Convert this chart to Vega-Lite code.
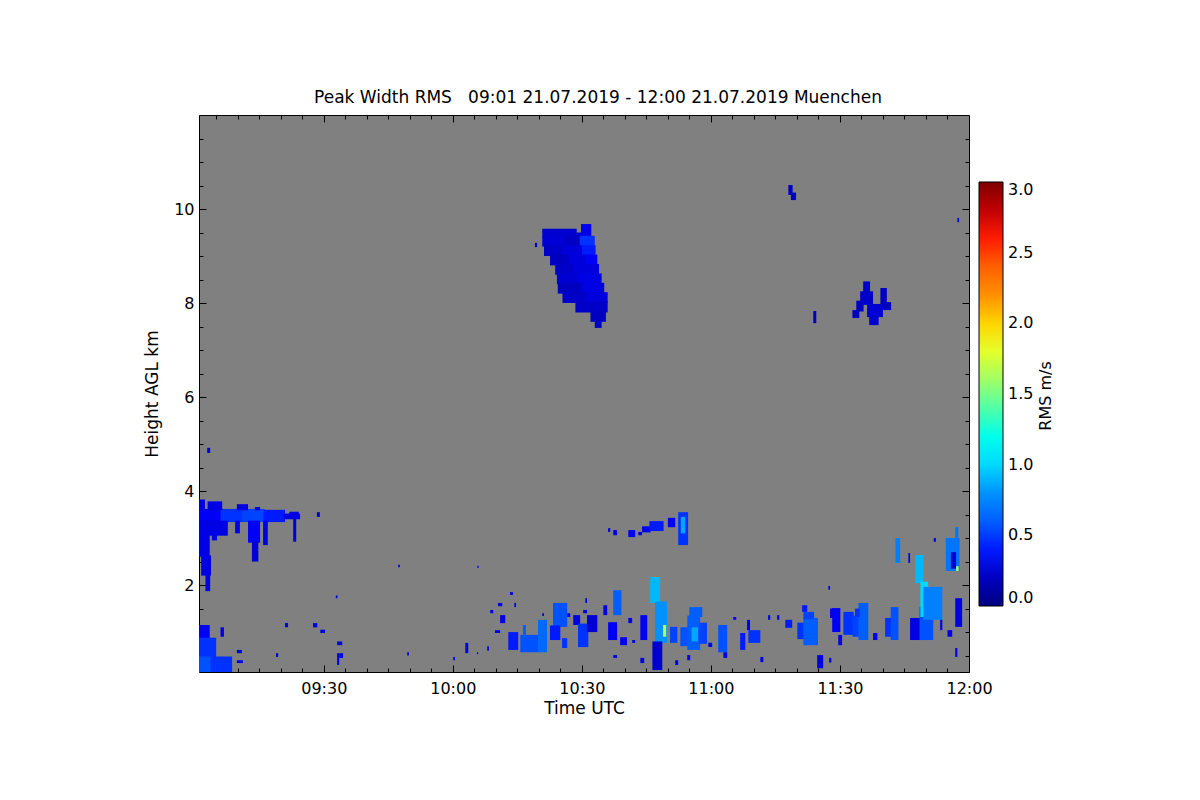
{
  "$schema": "https://vega.github.io/schema/vega-lite/v6.json",
  "autosize": "none",
  "width": 770,
  "height": 557,
  "padding": {"left": 199, "top": 115, "right": 231, "bottom": 128},
  "background": "white",
  "config": {
    "font": "DejaVu Sans",
    "view": {"fill": "#808080", "stroke": "black", "strokeWidth": 1},
    "axis": {"domain": false, "grid": false, "tickColor": "black", "labelColor": "black", "titleColor": "black", "zindex": 1, "tickWidth": 1}
  },
  "title": {"text": "Peak Width RMS \u00a0\u00a009:01 21.07.2019 - 12:00 21.07.2019 Muenchen", "fontSize": 17, "fontWeight": "normal", "offset": 8, "dx": 14, "color": "black", "anchor": "middle"},
  "data": {"values": [
    {"t0":80.8,"t1":88.8,"z0":9.40,"z1":9.58,"rms":0.24},
    {"t0":88.5,"t1":90.1,"z0":9.40,"z1":9.50,"rms":0.24},
    {"t0":89.8,"t1":92.2,"z0":9.40,"z1":9.68,"rms":0.32},
    {"t0":80.8,"t1":86.3,"z0":9.20,"z1":9.43,"rms":0.26},
    {"t0":86.0,"t1":89.8,"z0":9.20,"z1":9.43,"rms":0.21},
    {"t0":89.5,"t1":93.0,"z0":9.20,"z1":9.43,"rms":0.45},
    {"t0":81.2,"t1":85.8,"z0":9.00,"z1":9.23,"rms":0.22},
    {"t0":85.5,"t1":90.3,"z0":9.00,"z1":9.23,"rms":0.27},
    {"t0":90.0,"t1":93.2,"z0":9.00,"z1":9.23,"rms":0.40},
    {"t0":82.6,"t1":87.3,"z0":8.80,"z1":9.03,"rms":0.20},
    {"t0":87.0,"t1":91.3,"z0":8.80,"z1":9.03,"rms":0.28},
    {"t0":91.0,"t1":93.6,"z0":8.80,"z1":9.03,"rms":0.35},
    {"t0":83.8,"t1":88.3,"z0":8.60,"z1":8.83,"rms":0.22},
    {"t0":88.0,"t1":94.0,"z0":8.60,"z1":8.83,"rms":0.28},
    {"t0":84.2,"t1":89.3,"z0":8.40,"z1":8.63,"rms":0.25},
    {"t0":89.0,"t1":94.6,"z0":8.40,"z1":8.63,"rms":0.30},
    {"t0":84.4,"t1":90.3,"z0":8.20,"z1":8.43,"rms":0.20},
    {"t0":90.0,"t1":95.2,"z0":8.20,"z1":8.43,"rms":0.30},
    {"t0":85.5,"t1":91.3,"z0":8.00,"z1":8.23,"rms":0.22},
    {"t0":91.0,"t1":96.0,"z0":8.00,"z1":8.23,"rms":0.28},
    {"t0":88.5,"t1":96.0,"z0":7.80,"z1":8.03,"rms":0.22},
    {"t0":92.0,"t1":95.6,"z0":7.60,"z1":7.83,"rms":0.20},
    {"t0":93.0,"t1":94.6,"z0":7.47,"z1":7.63,"rms":0.20},
    {"t0":79.1,"t1":79.6,"z0":9.19,"z1":9.28,"rms":0.20},

    {"t0":138.0,"t1":139.0,"z0":10.30,"z1":10.51,"rms":0.2},
    {"t0":138.6,"t1":139.8,"z0":10.19,"z1":10.35,"rms":0.2},
    {"t0":177.3,"t1":177.7,"z0":9.72,"z1":9.81,"rms":0.25},
    {"t0":143.8,"t1":144.5,"z0":7.57,"z1":7.83,"rms":0.2},
    {"t0":152.9,"t1":154.5,"z0":7.68,"z1":7.85,"rms":0.2},
    {"t0":153.8,"t1":155.5,"z0":7.82,"z1":8.05,"rms":0.2},
    {"t0":155.4,"t1":157.0,"z0":8.22,"z1":8.46,"rms":0.22},
    {"t0":154.7,"t1":157.7,"z0":7.96,"z1":8.25,"rms":0.22},
    {"t0":156.8,"t1":159.0,"z0":7.53,"z1":7.73,"rms":0.25},
    {"t0":156.3,"t1":160.0,"z0":7.70,"z1":7.98,"rms":0.25},
    {"t0":159.4,"t1":160.9,"z0":7.95,"z1":8.32,"rms":0.2},
    {"t0":160.0,"t1":161.9,"z0":7.85,"z1":8.02,"rms":0.2},

    {"t0":1.0,"t1":6.3,"z0":3.34,"z1":3.62,"rms":0.35},
    {"t0":6.0,"t1":11.3,"z0":3.34,"z1":3.62,"rms":0.45},
    {"t0":11.0,"t1":16.3,"z0":3.34,"z1":3.62,"rms":0.5},
    {"t0":16.0,"t1":21.0,"z0":3.34,"z1":3.60,"rms":0.4},
    {"t0":20.7,"t1":24.5,"z0":3.40,"z1":3.52,"rms":0.3},
    {"t0":1.0,"t1":2.4,"z0":3.59,"z1":3.82,"rms":0.3},
    {"t0":3.0,"t1":6.4,"z0":3.59,"z1":3.78,"rms":0.3},
    {"t0":9.8,"t1":12.4,"z0":3.59,"z1":3.72,"rms":0.3},
    {"t0":14.0,"t1":15.2,"z0":3.59,"z1":3.66,"rms":0.3},
    {"t0":22.0,"t1":24.2,"z0":3.50,"z1":3.56,"rms":0.3},
    {"t0":1.0,"t1":3.5,"z0":2.60,"z1":3.37,"rms":0.3},
    {"t0":1.5,"t1":3.8,"z0":2.20,"z1":2.63,"rms":0.3},
    {"t0":2.5,"t1":3.6,"z0":1.87,"z1":2.23,"rms":0.3},
    {"t0":3.3,"t1":7.7,"z0":3.05,"z1":3.37,"rms":0.3},
    {"t0":4.0,"t1":5.2,"z0":2.95,"z1":3.08,"rms":0.3},
    {"t0":9.4,"t1":10.5,"z0":3.10,"z1":3.37,"rms":0.3},
    {"t0":12.4,"t1":15.2,"z0":2.90,"z1":3.37,"rms":0.35},
    {"t0":13.3,"t1":14.8,"z0":2.50,"z1":2.93,"rms":0.25},
    {"t0":15.9,"t1":17.0,"z0":2.85,"z1":3.37,"rms":0.3},
    {"t0":22.9,"t1":23.6,"z0":2.92,"z1":3.43,"rms":0.25},
    {"t0":28.4,"t1":29.1,"z0":3.45,"z1":3.55,"rms":0.25},
    {"t0":2.9,"t1":3.6,"z0":4.81,"z1":4.92,"rms":0.25},

    {"t0":1.0,"t1":3.5,"z0":0.85,"z1":1.15,"rms":0.35},
    {"t0":1.0,"t1":5.0,"z0":0.45,"z1":0.88,"rms":0.45},
    {"t0":1.0,"t1":4.0,"z0":0.15,"z1":0.48,"rms":0.55},
    {"t0":3.7,"t1":8.7,"z0":0.15,"z1":0.48,"rms":0.45},
    {"t0":6.0,"t1":6.8,"z0":0.90,"z1":1.10,"rms":0.3},
    {"t0":9.8,"t1":11.0,"z0":0.55,"z1":0.62,"rms":0.3},
    {"t0":9.8,"t1":11.2,"z0":0.34,"z1":0.40,"rms":0.3},
    {"t0":18.9,"t1":19.4,"z0":0.47,"z1":0.55,"rms":0.3},
    {"t0":33.1,"t1":33.6,"z0":0.30,"z1":0.55,"rms":0.3},
    {"t0":33.6,"t1":34.5,"z0":0.45,"z1":0.55,"rms":0.3},
    {"t0":49.4,"t1":49.8,"z0":0.50,"z1":0.57,"rms":0.3},
    {"t0":21.0,"t1":21.7,"z0":1.10,"z1":1.19,"rms":0.3},
    {"t0":27.5,"t1":28.5,"z0":1.10,"z1":1.19,"rms":0.3},
    {"t0":29.2,"t1":30.3,"z0":0.98,"z1":1.05,"rms":0.3},
    {"t0":33.1,"t1":34.3,"z0":0.72,"z1":0.80,"rms":0.3},
    {"t0":32.8,"t1":33.2,"z0":1.72,"z1":1.78,"rms":0.3},
    {"t0":47.3,"t1":47.7,"z0":2.38,"z1":2.43,"rms":0.3},

    {"t0":96.1,"t1":96.6,"z0":3.13,"z1":3.21,"rms":0.3},
    {"t0":97.3,"t1":98.2,"z0":3.06,"z1":3.17,"rms":0.3},
    {"t0":100.8,"t1":102.4,"z0":3.02,"z1":3.17,"rms":0.35},
    {"t0":103.1,"t1":104.0,"z0":3.06,"z1":3.13,"rms":0.3},
    {"t0":104.0,"t1":106.0,"z0":3.12,"z1":3.25,"rms":0.35},
    {"t0":105.7,"t1":109.0,"z0":3.15,"z1":3.36,"rms":0.4},
    {"t0":110.0,"t1":111.7,"z0":3.23,"z1":3.43,"rms":0.35},
    {"t0":112.4,"t1":114.7,"z0":2.85,"z1":3.55,"rms":0.45},
    {"t0":113.0,"t1":114.0,"z0":3.10,"z1":3.45,"rms":0.85},

    {"t0":72.9,"t1":75.2,"z0":0.62,"z1":1.00,"rms":0.4},
    {"t0":75.7,"t1":80.1,"z0":0.57,"z1":0.94,"rms":0.55},
    {"t0":79.8,"t1":81.9,"z0":0.57,"z1":1.26,"rms":0.65},
    {"t0":83.3,"t1":86.6,"z0":1.11,"z1":1.62,"rms":0.55},
    {"t0":82.6,"t1":85.0,"z0":0.83,"z1":1.14,"rms":0.4},
    {"t0":85.4,"t1":86.6,"z0":0.66,"z1":0.87,"rms":0.45},
    {"t0":88.0,"t1":89.6,"z0":1.15,"z1":1.36,"rms":0.3},
    {"t0":89.1,"t1":91.5,"z0":0.68,"z1":1.18,"rms":0.45},
    {"t0":91.2,"t1":93.6,"z0":1.00,"z1":1.36,"rms":0.25},
    {"t0":96.1,"t1":98.2,"z0":0.83,"z1":1.21,"rms":0.35},
    {"t0":97.3,"t1":99.2,"z0":1.36,"z1":1.89,"rms":0.6},
    {"t0":98.9,"t1":100.5,"z0":0.72,"z1":0.89,"rms":0.35},
    {"t0":103.6,"t1":105.2,"z0":0.83,"z1":1.36,"rms":0.35},
    {"t0":105.9,"t1":108.2,"z0":1.62,"z1":2.17,"rms":0.9},
    {"t0":107.0,"t1":109.8,"z0":0.77,"z1":1.65,"rms":0.8},
    {"t0":108.9,"t1":109.6,"z0":0.90,"z1":1.15,"rms":1.7},
    {"t0":106.4,"t1":108.7,"z0":0.19,"z1":0.80,"rms":0.25},
    {"t0":110.5,"t1":112.2,"z0":0.77,"z1":1.11,"rms":0.5},
    {"t0":112.9,"t1":114.8,"z0":0.70,"z1":1.10,"rms":0.55},
    {"t0":114.5,"t1":117.5,"z0":0.62,"z1":1.35,"rms":0.6},
    {"t0":117.2,"t1":119.1,"z0":0.75,"z1":1.20,"rms":0.5},
    {"t0":115.0,"t1":118.0,"z0":1.32,"z1":1.53,"rms":0.6},
    {"t0":115.5,"t1":117.0,"z0":0.80,"z1":1.10,"rms":0.85},
    {"t0":121.7,"t1":123.8,"z0":0.57,"z1":1.15,"rms":0.55},
    {"t0":73.3,"t1":74.0,"z0":1.79,"z1":1.85,"rms":0.3},
    {"t0":70.5,"t1":71.5,"z0":1.55,"z1":1.62,"rms":0.3},
    {"t0":71.0,"t1":72.2,"z0":1.19,"z1":1.36,"rms":0.3},
    {"t0":69.8,"t1":71.0,"z0":0.98,"z1":1.04,"rms":0.3},
    {"t0":62.9,"t1":63.6,"z0":0.55,"z1":0.77,"rms":0.3},
    {"t0":60.1,"t1":60.5,"z0":0.40,"z1":0.47,"rms":0.3},
    {"t0":68.0,"t1":68.4,"z0":0.60,"z1":0.70,"rms":0.3},
    {"t0":65.6,"t1":65.9,"z0":0.53,"z1":0.57,"rms":0.3},
    {"t0":65.7,"t1":66.0,"z0":2.36,"z1":2.41,"rms":0.3},
    {"t0":90.8,"t1":91.2,"z0":1.62,"z1":1.72,"rms":0.3},
    {"t0":95.0,"t1":95.9,"z0":1.36,"z1":1.57,"rms":0.3},
    {"t0":103.6,"t1":104.5,"z0":0.34,"z1":0.45,"rms":0.3},
    {"t0":97.3,"t1":98.2,"z0":0.45,"z1":0.51,"rms":0.3},
    {"t0":114.5,"t1":115.2,"z0":0.40,"z1":0.51,"rms":0.3},
    {"t0":119.4,"t1":120.3,"z0":0.68,"z1":0.77,"rms":0.3},
    {"t0":68.7,"t1":69.4,"z0":1.40,"z1":1.47,"rms":0.3},
    {"t0":74.3,"t1":74.7,"z0":1.53,"z1":1.62,"rms":0.3},
    {"t0":76.3,"t1":77.0,"z0":0.90,"z1":1.15,"rms":0.6},
    {"t0":80.8,"t1":81.2,"z0":1.34,"z1":1.40,"rms":0.3},
    {"t0":86.6,"t1":87.3,"z0":1.32,"z1":1.40,"rms":0.3},
    {"t0":90.3,"t1":91.2,"z0":1.40,"z1":1.47,"rms":0.3},
    {"t0":100.8,"t1":101.7,"z0":1.19,"z1":1.30,"rms":0.3},
    {"t0":101.7,"t1":102.4,"z0":0.77,"z1":0.83,"rms":0.3},
    {"t0":111.7,"t1":112.4,"z0":0.30,"z1":0.40,"rms":0.3},
    {"t0":122.9,"t1":123.8,"z0":0.45,"z1":0.57,"rms":0.3},

    {"t0":126.8,"t1":128.0,"z0":0.62,"z1":0.98,"rms":0.4},
    {"t0":128.7,"t1":131.5,"z0":0.77,"z1":1.04,"rms":0.45},
    {"t0":137.3,"t1":138.9,"z0":1.09,"z1":1.26,"rms":0.4},
    {"t0":140.1,"t1":141.8,"z0":0.85,"z1":1.20,"rms":0.45},
    {"t0":141.5,"t1":144.9,"z0":0.72,"z1":1.30,"rms":0.6},
    {"t0":141.5,"t1":144.0,"z0":1.27,"z1":1.43,"rms":0.5},
    {"t0":148.2,"t1":150.1,"z0":1.00,"z1":1.51,"rms":0.35},
    {"t0":150.8,"t1":153.2,"z0":0.94,"z1":1.43,"rms":0.45},
    {"t0":152.9,"t1":154.6,"z0":0.90,"z1":1.35,"rms":0.5},
    {"t0":154.3,"t1":156.6,"z0":0.83,"z1":1.62,"rms":0.6},
    {"t0":153.5,"t1":154.6,"z0":1.32,"z1":1.50,"rms":0.45},
    {"t0":160.5,"t1":162.1,"z0":0.90,"z1":1.30,"rms":0.45},
    {"t0":161.8,"t1":163.6,"z0":0.83,"z1":1.53,"rms":0.55},
    {"t0":166.3,"t1":168.8,"z0":0.83,"z1":1.30,"rms":0.3},
    {"t0":168.5,"t1":171.7,"z0":0.83,"z1":1.53,"rms":0.55},
    {"t0":167.5,"t1":169.4,"z0":2.04,"z1":2.64,"rms":0.9},
    {"t0":168.7,"t1":170.5,"z0":1.32,"z1":2.07,"rms":1.0},
    {"t0":169.4,"t1":173.8,"z0":1.26,"z1":1.96,"rms":0.75},
    {"t0":162.9,"t1":164.0,"z0":2.47,"z1":3.00,"rms":0.75},
    {"t0":174.6,"t1":177.8,"z0":2.30,"z1":3.00,"rms":0.7},
    {"t0":176.8,"t1":177.5,"z0":2.97,"z1":3.23,"rms":0.7},
    {"t0":175.8,"t1":177.0,"z0":2.35,"z1":2.70,"rms":0.25},
    {"t0":177.0,"t1":177.6,"z0":2.30,"z1":2.40,"rms":1.6},
    {"t0":176.8,"t1":178.4,"z0":1.11,"z1":1.72,"rms":0.3},
    {"t0":144.7,"t1":146.1,"z0":0.23,"z1":0.51,"rms":0.3},
    {"t0":147.3,"t1":147.7,"z0":1.90,"z1":1.98,"rms":0.3},
    {"t0":147.5,"t1":148.0,"z0":0.35,"z1":0.45,"rms":0.3},
    {"t0":171.8,"t1":172.3,"z0":2.92,"z1":3.00,"rms":0.3},
    {"t0":125.2,"t1":125.9,"z0":1.26,"z1":1.32,"rms":0.3},
    {"t0":128.4,"t1":129.1,"z0":1.04,"z1":1.26,"rms":0.35},
    {"t0":133.3,"t1":133.8,"z0":1.26,"z1":1.36,"rms":0.3},
    {"t0":135.4,"t1":135.9,"z0":1.26,"z1":1.36,"rms":0.3},
    {"t0":131.5,"t1":132.2,"z0":0.36,"z1":0.47,"rms":0.3},
    {"t0":141.2,"t1":142.4,"z0":1.43,"z1":1.57,"rms":0.4},
    {"t0":147.7,"t1":148.4,"z0":1.30,"z1":1.50,"rms":0.3},
    {"t0":149.6,"t1":150.5,"z0":0.72,"z1":0.94,"rms":0.3},
    {"t0":157.7,"t1":158.7,"z0":0.83,"z1":0.98,"rms":0.35},
    {"t0":173.3,"t1":173.8,"z0":1.04,"z1":1.26,"rms":0.3},
    {"t0":175.0,"t1":176.1,"z0":0.90,"z1":1.04,"rms":0.3},
    {"t0":176.8,"t1":177.3,"z0":0.47,"z1":0.66,"rms":0.3},
    {"t0":165.9,"t1":166.3,"z0":2.47,"z1":2.68,"rms":0.3}
  ]},
  "encoding": {
    "x": {"field": "t0", "type": "quantitative", "scale": {"domain": [1, 180], "nice": false, "zero": false}},
    "x2": {"field": "t1"},
    "y": {"field": "z0", "type": "quantitative", "scale": {"domain": [0.15, 12], "nice": false, "zero": false}},
    "y2": {"field": "z1"}
  },
  "layer": [
    {
      "mark": {"type": "rect", "clip": true},
      "encoding": {
        "x": {"field": "t0", "type": "quantitative", "axis": {"orient": "bottom", "values": [30, 60, 90, 120, 150, 180], "labelExpr": "timeFormat(datetime(2019, 6, 21, 9, datum.value), '%H:%M')", "offset": -7, "tickSize": 7, "labelPadding": 8, "labelFontSize": 16, "labelFlush": false, "labelOverlap": false, "title": "Time UTC", "titleFontSize": 17, "titleFontWeight": "normal", "titlePadding": 4}},
        "y": {"field": "z0", "type": "quantitative", "axis": {"orient": "left", "values": [2, 4, 6, 8, 10], "format": "d", "offset": -7, "tickSize": 7, "labelPadding": 5, "labelFontSize": 16, "labelFlush": false, "labelOverlap": false, "title": "Height AGL km", "titleFontSize": 17, "titleFontWeight": "normal", "titlePadding": 12}},
        "color": {
          "field": "rms", "type": "quantitative",
          "scale": {"domain": [0, 0.375, 0.75, 1.125, 1.5, 1.875, 2.25, 2.625, 3], "range": ["#00007f", "#0000ff", "#007fff", "#00ffff", "#7fff7f", "#ffff00", "#ff7f00", "#ff0000", "#7f0000"]},
          "legend": {"type": "gradient", "orient": "none", "legendX": 780, "legendY": 67, "direction": "vertical", "gradientLength": 424, "gradientThickness": 24, "gradientStrokeColor": "black", "gradientStrokeWidth": 1, "values": [0, 0.5, 1, 1.5, 2, 2.5, 3], "format": ".1f", "labelFontSize": 16, "labelOffset": 5, "labelColor": "black", "labelOverlap": false, "title": null}
        }
      }
    },
    {
      "mark": {"type": "rect", "opacity": 0},
      "encoding": {
        "x": {"field": "t0", "type": "quantitative", "axis": {"orient": "bottom", "values": [5, 10, 15, 20, 25, 35, 40, 45, 50, 55, 65, 70, 75, 80, 85, 95, 100, 105, 110, 115, 125, 130, 135, 140, 145, 155, 160, 165, 170, 175], "offset": -4, "tickSize": 4, "labels": false, "title": null}},
        "y": {"field": "z0", "type": "quantitative", "axis": {"orient": "left", "values": [0.5, 1, 1.5, 2.5, 3, 3.5, 4.5, 5, 5.5, 6.5, 7, 7.5, 8.5, 9, 9.5, 10.5, 11, 11.5], "offset": -4, "tickSize": 4, "labels": false, "title": null}},
        "stroke": {"datum": 1, "type": "quantitative", "scale": {"domain": [0, 3], "range": ["#ffffff", "#ffffff"]}, "legend": {"type": "gradient", "orient": "none", "legendX": 839, "legendY": 246, "direction": "vertical", "gradientLength": 70, "gradientThickness": 10, "gradientOpacity": 0, "gradientStrokeWidth": 0, "labelOpacity": 0, "title": "RMS m/s", "titleOrient": "left", "titleAnchor": "middle", "titleFontSize": 16, "titleFontWeight": "normal", "titleColor": "black", "titlePadding": 2}}
      }
    },
    {
      "mark": {"type": "rect", "opacity": 0},
      "encoding": {
        "x": {"field": "t0", "type": "quantitative", "axis": {"orient": "top", "values": [30, 60, 90, 120, 150], "offset": -7, "tickSize": 7, "labels": false, "title": null}},
        "y": {"field": "z0", "type": "quantitative", "axis": {"orient": "right", "values": [2, 4, 6, 8, 10], "offset": -7, "tickSize": 7, "labels": false, "title": null}}
      }
    },
    {
      "mark": {"type": "rect", "opacity": 0},
      "encoding": {
        "x": {"field": "t0", "type": "quantitative", "axis": {"orient": "top", "values": [5, 10, 15, 20, 25, 35, 40, 45, 50, 55, 65, 70, 75, 80, 85, 95, 100, 105, 110, 115, 125, 130, 135, 140, 145, 155, 160, 165, 170, 175], "offset": -4, "tickSize": 4, "labels": false, "title": null}},
        "y": {"field": "z0", "type": "quantitative", "axis": {"orient": "right", "values": [0.5, 1, 1.5, 2.5, 3, 3.5, 4.5, 5, 5.5, 6.5, 7, 7.5, 8.5, 9, 9.5, 10.5, 11, 11.5], "offset": -4, "tickSize": 4, "labels": false, "title": null}}
      }
    }
  ],
  "resolve": {"axis": {"x": "independent", "y": "independent"}}
}
